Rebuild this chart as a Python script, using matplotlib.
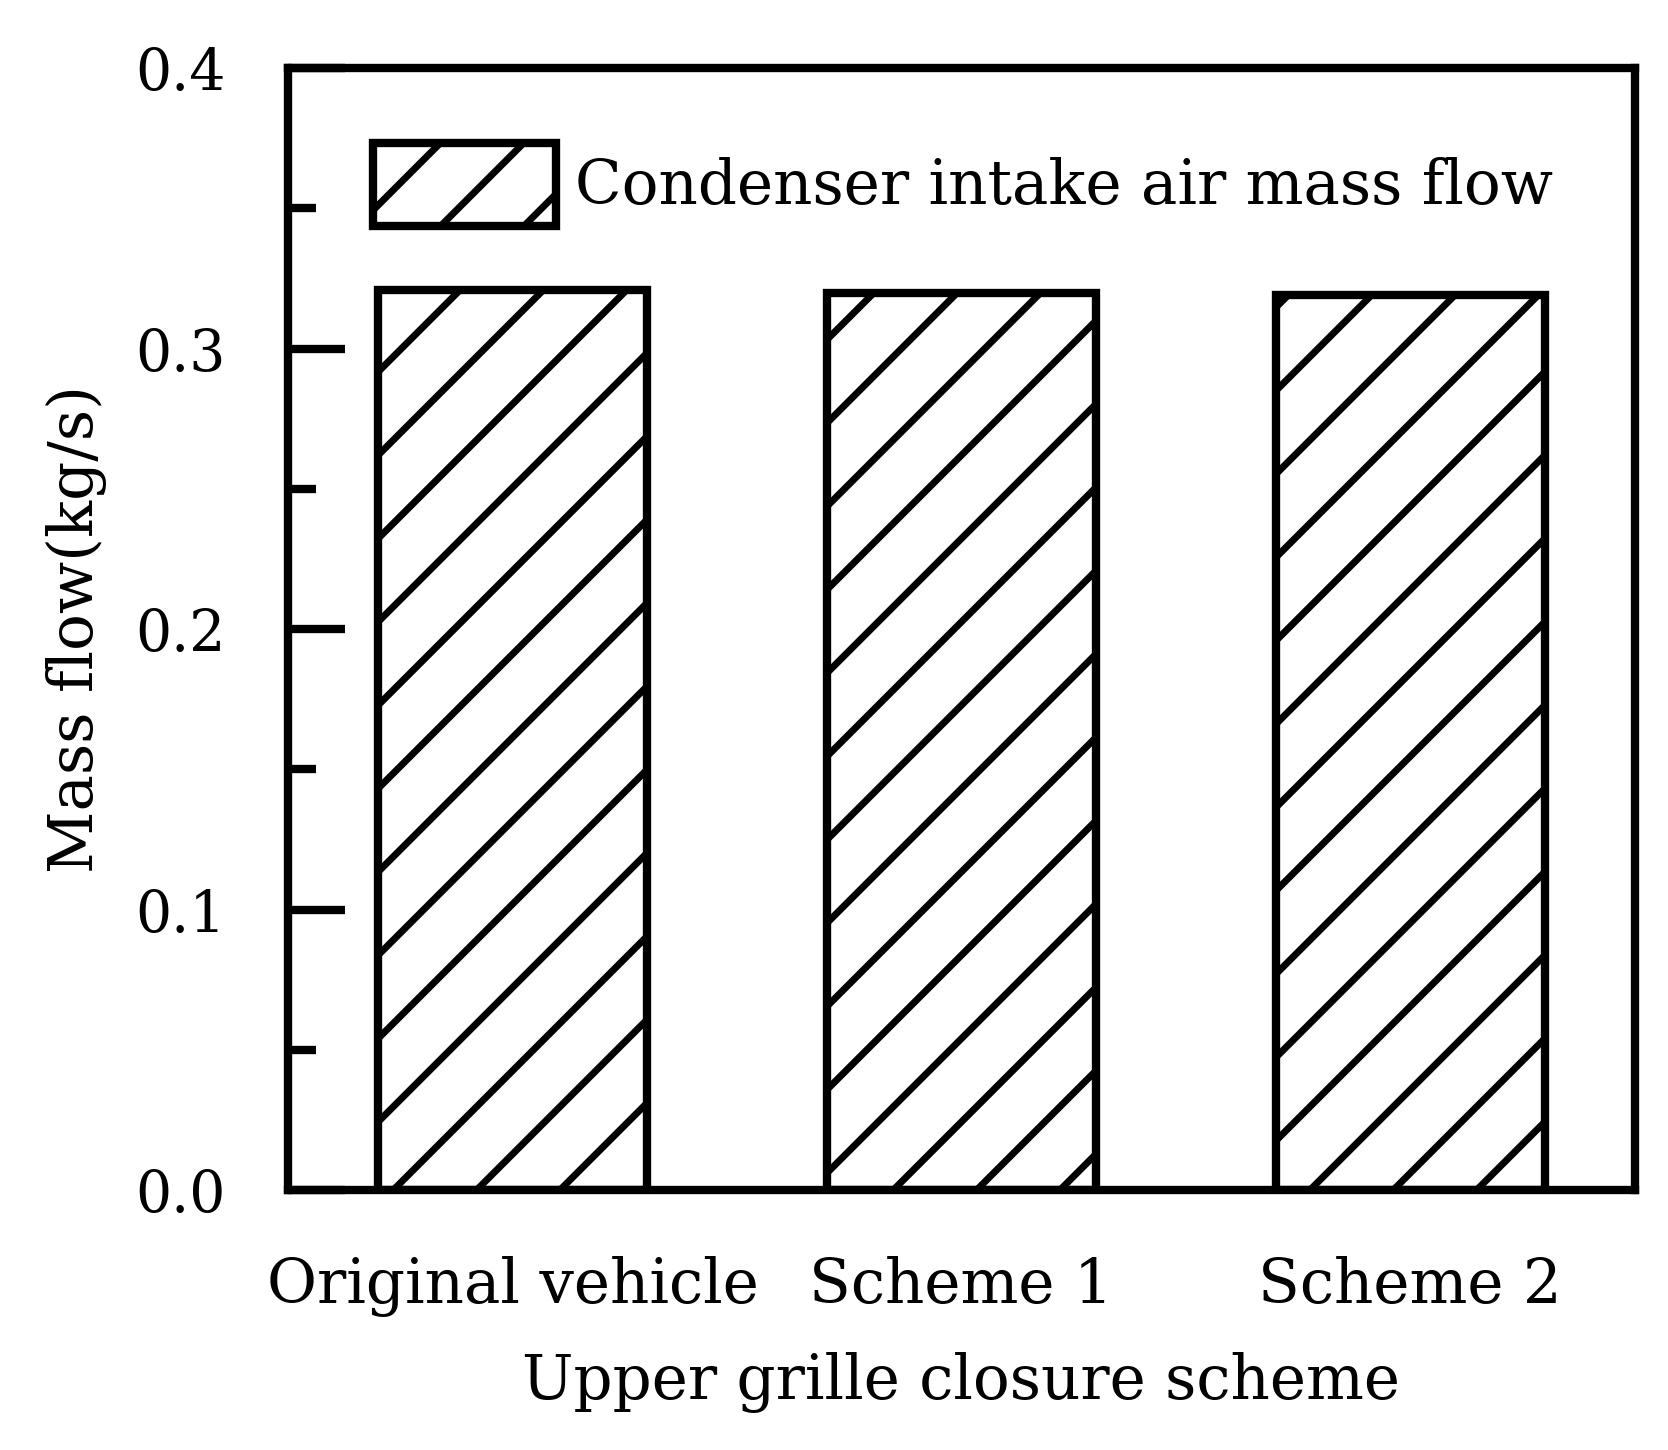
import matplotlib
matplotlib.use('Agg')
import matplotlib.pyplot as plt
from matplotlib.ticker import MultipleLocator, FormatStrFormatter

schemes = ['Original vehicle', 'Scheme 1', 'Scheme 2']
mass_flow = [0.321, 0.320, 0.319]

plt.rcParams['font.family'] = 'DejaVu Serif'
plt.rcParams['hatch.linewidth'] = 1.0

# high dpi so the hatch lines come out as sparse as the original
fig = plt.figure(figsize=(3.336, 2.9), dpi=500)
ax = fig.add_axes([0.1727, 0.1793, 0.8073, 0.7737])

x = range(len(schemes))
ax.bar(x, mass_flow, width=0.6, facecolor='white', edgecolor='black',
       linewidth=1.2, hatch='//', label='Condenser intake air mass flow')

ax.set_xlim(-0.5, 2.5)
ax.set_ylim(0, 0.4)
ax.set_xticks(list(x))
ax.set_xticklabels(schemes)
ax.yaxis.set_major_locator(MultipleLocator(0.1))
ax.yaxis.set_minor_locator(MultipleLocator(0.05))
ax.yaxis.set_major_formatter(FormatStrFormatter('%.1f'))

for s in ax.spines.values():
    s.set_linewidth(1.2)

ax.tick_params(axis='y', which='major', direction='in', length=8.2, width=1.2,
               pad=9, labelsize=8.2)
ax.tick_params(axis='y', which='minor', direction='in', length=4.1, width=1.2)
ax.tick_params(axis='x', length=0, pad=9.5, labelsize=8.8)

ax.set_xlabel('Upper grille closure scheme', fontsize=8.8, labelpad=5)
ax.set_ylabel('Mass flow(kg/s)', fontsize=8.8, labelpad=4)

ax.legend(loc='upper left', bbox_to_anchor=(0.063, 0.933), frameon=False,
          fontsize=8.8, borderpad=0, borderaxespad=0, handlelength=3.0,
          handleheight=1.7, handletextpad=0.3)

fig.savefig('out.png', dpi=500)
